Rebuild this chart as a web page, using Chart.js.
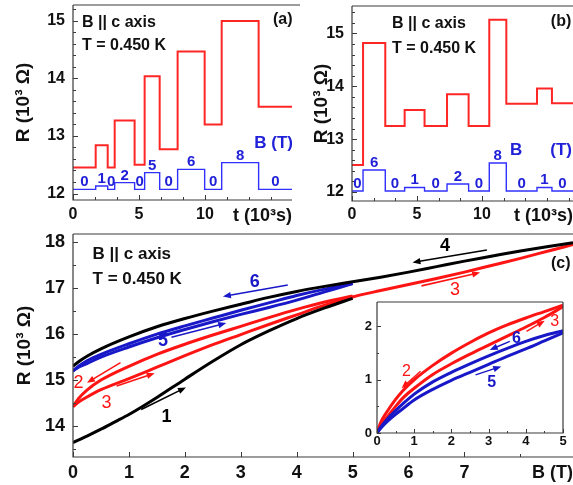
<!DOCTYPE html>
<html>
<head>
<meta charset="utf-8">
<title>R(t) steps and R(B) sweeps, T = 0.450 K</title>
<script src="https://cdn.jsdelivr.net/npm/chart.js@4.4.1/dist/chart.umd.min.js"></script>
<style>
  html, body { margin: 0; padding: 0; background: #fff; }
  #page { position: relative; width: 573px; height: 485px; overflow: hidden; background: #fff; }
  #page canvas { position: absolute; }
</style>
</head>
<body>
<div id="page">
  <canvas id="chartC" width="573" height="260" style="left:0;top:225px"></canvas>
  <canvas id="chartA" width="300" height="230" style="left:0;top:0"></canvas>
  <canvas id="chartB" width="273" height="230" style="left:300px;top:0"></canvas>
  <canvas id="chartInset" width="228" height="160" style="left:345px;top:295px"></canvas>
</div>
<script>
/* ── Panel (a): resistance steps while the field is switched ── */
const timesA = [0, 1.72, 2.63, 3.16, 4.67, 5.43, 6.57, 7.93, 9.98, 11.27, 14.07, 16.6];
const resA   = [12.45, 12.84, 12.45, 13.27, 12.50, 14.04, 12.77, 14.47, 13.20, 15.00, 13.51];
const fieldA = [0, 1, 0, 2, 0, 5, 0, 6, 0, 8, 0];

/* ── Panel (b) ── */
const timesB = [0, 0.85, 2.56, 4.05, 5.58, 7.31, 8.97, 10.56, 11.87, 14.23, 15.38, 17.0];
const resB   = [12.51, 14.82, 13.25, 13.55, 13.25, 13.85, 13.25, 15.26, 13.67, 13.96, 13.68];
const fieldB = [0, 6, 0, 1, 0, 2, 0, 8, 0, 1, 0];

/* ── Panel (c): field sweeps 1..6 (B in T, R in 10^3 ohm), listed by rising B ── */
const sweep1B = [0, 0.25, 0.5, 0.75, 1, 1.25, 1.5, 2, 2.5, 3, 3.5, 4, 4.5, 5];
const sweep1R = [13.64, 13.78, 13.93, 14.09, 14.25, 14.43, 14.62, 15.02, 15.41, 15.77, 16.07, 16.34, 16.57, 16.78];
const sweep2B = [0, 0.1, 0.25, 0.5, 1, 1.5, 2, 2.5, 3, 3.5, 4, 4.5, 5];
const sweep2R = [14.42, 14.6, 14.78, 15.0, 15.3, 15.56, 15.78, 15.98, 16.17, 16.36, 16.54, 16.7, 16.83];
const sweep3B = [0, 0.1, 0.25, 0.5, 1, 1.5, 2, 2.5, 3, 3.5, 4, 4.5, 5, 5.5, 6, 6.5, 7, 7.5, 8, 8.5, 8.94];
const sweep3R = [14.42, 14.52, 14.63, 14.79, 15.03, 15.28, 15.53, 15.77, 15.99, 16.21, 16.42, 16.63, 16.81, 16.95, 17.08, 17.21, 17.35, 17.5, 17.65, 17.81, 17.95];
const sweep4B = [0, 0.1, 0.25, 0.5, 1, 1.5, 2, 2.5, 3, 3.5, 4, 4.5, 5, 5.5, 6, 6.5, 7, 7.5, 8, 8.5, 8.94];
const sweep4R = [15.3, 15.4, 15.52, 15.68, 15.94, 16.16, 16.34, 16.5, 16.65, 16.8, 16.93, 17.04, 17.14, 17.24, 17.35, 17.47, 17.59, 17.7, 17.81, 17.91, 17.99];
const sweep5B = [0, 0.1, 0.25, 0.5, 1, 1.5, 2, 2.5, 3, 3.5, 4, 4.5, 5];
const sweep5R = [15.2, 15.28, 15.36, 15.5, 15.72, 15.92, 16.1, 16.27, 16.43, 16.58, 16.74, 16.92, 17.1];
const sweep6B = [0, 0.1, 0.25, 0.5, 1, 1.5, 2, 2.5, 3, 3.5, 4, 4.5, 5];
const sweep6R = [15.2, 15.3, 15.42, 15.56, 15.79, 16.0, 16.18, 16.35, 16.52, 16.68, 16.84, 16.98, 17.1];

/* ── Inset: R(B) - R(0) for sweeps 2, 3, 5, 6 ── */
const insetB   = [0, 0.1, 0.25, 0.5, 0.7, 1, 1.5, 2, 2.5, 3, 3.5, 4, 4.5, 5];
const inset2dR = [0, 0.2, 0.38, 0.63, 0.8, 1.0, 1.27, 1.5, 1.7, 1.88, 2.03, 2.16, 2.28, 2.4];
const inset3dR = [0, 0.13, 0.28, 0.5, 0.66, 0.84, 1.1, 1.3, 1.48, 1.65, 1.82, 1.99, 2.17, 2.37];
const inset5dR = [0, 0.09, 0.2, 0.35, 0.46, 0.62, 0.82, 0.99, 1.14, 1.29, 1.44, 1.58, 1.73, 1.88];
const inset6dR = [0, 0.11, 0.24, 0.42, 0.55, 0.73, 0.96, 1.14, 1.3, 1.45, 1.59, 1.72, 1.83, 1.92];

/* ── Styling ── */
const FAMILY = '"Liberation Sans", Arial, Helvetica, sans-serif';
const INK = '#111111';
const RED = '#ff2626';
const BLUE = '#3030ff';
const TXT_BLUE = '#2020d8';
const RED_C = '#ff1414';
const BLUE_C = '#1818c8';

Chart.defaults.font.family = FAMILY;

function font(size, weight = 'bold') { return { family: FAMILY, size: size, weight: weight }; }
function cssFont(size, weight = 'bold') { return weight + ' ' + size + 'px ' + FAMILY; }
function isStep(v, step) { return Math.abs(v / step - Math.round(v / step)) < 1e-6; }
function xy(xs, ys) { return xs.map((x, i) => ({ x: x, y: ys[i] })); }

/* step trace: level i holds from times[i] to times[i+1] */
function stepPoints(times, levels) {
  const pts = levels.map((v, i) => ({ x: times[i], y: v }));
  pts.push({ x: times[times.length - 1], y: levels[levels.length - 1] });
  return pts;
}

/* pin axis box size so every panel lines up with the figure */
function fixSize(size, horizontal) {
  return function(scale) {
    if (horizontal) scale.height = size; else scale.width = size;
    scale.paddingLeft = 0; scale.paddingRight = 0;
    scale.paddingTop = 0; scale.paddingBottom = 0;
  };
}

function linAxis(o) {
  return {
    type: 'linear', min: o.min, max: o.max,
    grid: { display: false, drawTicks: false },
    border: { display: false },
    ticks: {
      stepSize: o.step, includeBounds: false, autoSkip: false, maxRotation: 0,
      maxTicksLimit: 1000, padding: o.pad, color: INK, font: font(o.size),
      callback: o.label
    },
    title: o.title ? {
      display: true, text: o.title, align: o.align || 'center', color: INK,
      font: font(o.titleSize), padding: o.titlePad
    } : { display: false },
    afterFit: fixSize(o.box, o.horizontal)
  };
}

/* axis frame with inward tick marks */
function framePlugin(opts) {
  return {
    id: 'frame',
    beforeDatasetsDraw(chart) {
      if (!opts.fill) return;
      const a = chart.chartArea;
      chart.ctx.save();
      chart.ctx.fillStyle = '#ffffff';
      chart.ctx.fillRect(a.left, a.top, a.right - a.left, a.bottom - a.top);
      chart.ctx.restore();
    },
    afterDatasetsDraw(chart) {
      const { ctx, chartArea: a, scales } = chart;
      ctx.save();
      ctx.strokeStyle = '#3a3a3a';
      ctx.lineWidth = 1.2;
      ctx.beginPath();
      ctx.moveTo(a.left, a.top);
      ctx.lineTo(a.left, a.bottom);
      ctx.lineTo(a.right, a.bottom);
      if (opts.right) ctx.lineTo(a.right, a.top);
      ctx.moveTo(a.left, a.top);
      ctx.lineTo(opts.topToEdge ? chart.width : a.right, a.top);
      ctx.stroke();

      ctx.lineWidth = 1;
      ctx.beginPath();
      scales.x.ticks.forEach(t => {
        const px = Math.round(scales.x.getPixelForValue(t.value)) + 0.5;
        const len = t.label !== '' ? opts.major : opts.minor;
        ctx.moveTo(px, a.bottom);
        ctx.lineTo(px, a.bottom - len);
      });
      scales.y.ticks.forEach(t => {
        const py = Math.round(scales.y.getPixelForValue(t.value)) + 0.5;
        const len = t.label !== '' ? opts.major : opts.minor;
        ctx.moveTo(a.left, py);
        ctx.lineTo(a.left + len, py);
      });
      ctx.stroke();
      ctx.restore();
    }
  };
}

function drawArrow(ctx, x1, y1, x2, y2, color, width) {
  const ang = Math.atan2(y2 - y1, x2 - x1);
  const head = 8, half = 3.2;
  const c = Math.cos(ang), s = Math.sin(ang);
  ctx.strokeStyle = color;
  ctx.fillStyle = color;
  ctx.lineWidth = width;
  ctx.beginPath();
  ctx.moveTo(x1, y1);
  ctx.lineTo(x2 - head * 0.7 * c, y2 - head * 0.7 * s);
  ctx.stroke();
  ctx.beginPath();
  ctx.moveTo(x2, y2);
  ctx.lineTo(x2 - head * c + half * s, y2 - head * s - half * c);
  ctx.lineTo(x2 - head * c - half * s, y2 - head * s + half * c);
  ctx.closePath();
  ctx.fill();
}

/* text labels, arrows and field values, all placed in data coordinates */
function overlayPlugin(cfg) {
  return {
    id: 'overlay',
    afterDraw(chart) {
      const ctx = chart.ctx;
      const xs = chart.scales.x, ys = chart.scales.y;
      ctx.save();
      (cfg.arrows || []).forEach(ar => {
        drawArrow(ctx,
          xs.getPixelForValue(ar.from[0]), ys.getPixelForValue(ar.from[1]),
          xs.getPixelForValue(ar.to[0]), ys.getPixelForValue(ar.to[1]),
          ar.color, ar.width || 1.6);
      });
      (cfg.texts || []).forEach(tx => {
        ctx.font = tx.font;
        ctx.fillStyle = tx.color || INK;
        ctx.textAlign = tx.align || 'center';
        ctx.textBaseline = 'middle';
        ctx.fillText(tx.text, xs.getPixelForValue(tx.at[0]), ys.getPixelForValue(tx.at[1]));
      });
      if (cfg.steps) {
        const st = cfg.steps, fs = chart.scales.y2;
        ctx.font = cssFont(15);
        ctx.fillStyle = TXT_BLUE;
        ctx.textAlign = 'center';
        ctx.textBaseline = 'alphabetic';
        st.levels.forEach((lv, i) => {
          const mid = (st.times[i] + st.times[i + 1]) / 2;
          ctx.fillText(String(lv), xs.getPixelForValue(mid), fs.getPixelForValue(lv) - 3);
        });
      }
      ctx.restore();
    }
  };
}

const baseOpts = (padding) => ({
  responsive: false,
  animation: false,
  events: [],
  layout: { padding: padding },
  plugins: { legend: { display: false }, tooltip: { enabled: false } },
  elements: { point: { radius: 0 } }
});

const timeLabel = v => (isStep(v, 5) && v < 12 ? String(Math.round(v)) : '');
const intLabel = v => (isStep(v, 1) ? String(Math.round(v)) : '');

/* ── (a) ── */
new Chart(document.getElementById('chartA'), {
  type: 'line',
  data: {
    datasets: [
      { data: stepPoints(timesA, resA), borderColor: RED, borderWidth: 2, stepped: true, yAxisID: 'y' },
      { data: stepPoints(timesA, fieldA), borderColor: BLUE, borderWidth: 1.4, stepped: true, yAxisID: 'y2' }
    ]
  },
  options: Object.assign(baseOpts({ top: 5, right: 8, left: 0, bottom: 0 }), {
    scales: {
      x: linAxis({ min: 0, max: 16.6, step: 5 / 3, pad: 5, size: 16, label: timeLabel,
        title: 't (10³s)', align: 'end', titleSize: 18, titlePad: { top: 0, bottom: 3.2 },
        box: 30, horizontal: true }),
      y: linAxis({ min: 11.887, max: 15.278, step: 0.2, pad: 8, size: 16, label: intLabel,
        title: 'R (10³ Ω)', titleSize: 19, titlePad: { top: 12.6, bottom: 0 }, box: 73 }),
      y2: { type: 'linear', display: false, min: -3.2, max: 55.3 }
    }
  }),
  plugins: [
    framePlugin({ major: 5, minor: 3, topToEdge: true }),
    overlayPlugin({
      texts: [
        { text: 'B || c axis', at: [0.68, 14.98], align: 'left', font: cssFont(16) },
        { text: 'T = 0.450 K', at: [0.68, 14.57], align: 'left', font: cssFont(16) },
        { text: '(a)', at: [15.9, 15.02], font: cssFont(16) },
        { text: 'B (T)', at: [16.67, 12.88], align: 'right', font: cssFont(17), color: TXT_BLUE }
      ],
      steps: { times: timesA, levels: fieldA }
    })
  ]
});

/* ── (b) ── */
new Chart(document.getElementById('chartB'), {
  type: 'line',
  data: {
    datasets: [
      { data: stepPoints(timesB, resB), borderColor: RED, borderWidth: 2, stepped: true, yAxisID: 'y' },
      { data: stepPoints(timesB, fieldB), borderColor: BLUE, borderWidth: 1.4, stepped: true, yAxisID: 'y2' }
    ]
  },
  options: Object.assign(baseOpts({ top: 6, right: 0, left: 0, bottom: 0 }), {
    scales: {
      x: linAxis({ min: 0, max: 17.0, step: 5 / 3, pad: 4, size: 16, label: timeLabel,
        title: 't (10³s)', align: 'end', titleSize: 18, titlePad: { top: 0, bottom: 3.2 },
        box: 29, horizontal: true }),
      y: linAxis({ min: 11.83, max: 15.52, step: 0.2, pad: 8, size: 16, label: intLabel,
        title: 'R (10³ Ω)', titleSize: 19, titlePad: { top: 10.6, bottom: 0 }, box: 52 }),
      y2: { type: 'linear', display: false, min: -2.86, max: 52.86 }
    }
  }),
  plugins: [
    framePlugin({ major: 5, minor: 3 }),
    overlayPlugin({
      texts: [
        { text: 'B || c axis', at: [3.08, 15.18], align: 'left', font: cssFont(16) },
        { text: 'T = 0.450 K', at: [3.08, 14.72], align: 'left', font: cssFont(16) },
        { text: '(b)', at: [16.08, 15.23], font: cssFont(16) },
        { text: 'B', at: [12.15, 12.79], align: 'left', font: cssFont(17), color: TXT_BLUE },
        { text: '(T)', at: [16.92, 12.79], align: 'right', font: cssFont(17), color: TXT_BLUE }
      ],
      steps: { times: timesB, levels: fieldB }
    })
  ]
});

/* ── (c) ── */
const sweepStyle = (color) => ({ borderColor: color, borderWidth: 3, cubicInterpolationMode: 'monotone' });
new Chart(document.getElementById('chartC'), {
  type: 'line',
  data: {
    datasets: [
      Object.assign({ data: xy(sweep1B, sweep1R) }, sweepStyle('#000000')),
      Object.assign({ data: xy(sweep4B, sweep4R) }, sweepStyle('#000000')),
      Object.assign({ data: xy(sweep2B, sweep2R) }, sweepStyle(RED_C)),
      Object.assign({ data: xy(sweep3B, sweep3R) }, sweepStyle(RED_C)),
      Object.assign({ data: xy(sweep5B, sweep5R) }, sweepStyle(BLUE_C)),
      Object.assign({ data: xy(sweep6B, sweep6R) }, sweepStyle(BLUE_C))
    ]
  },
  options: Object.assign(baseOpts({ top: 9, right: 0, left: 0, bottom: 0 }), {
    scales: {
      x: linAxis({ min: 0, max: 8.94, step: 1, pad: 5, size: 18,
        label: v => (v <= 7 && isStep(v, 1) ? String(Math.round(v)) : ''),
        title: 'B (T)', align: 'end', titleSize: 18, titlePad: { top: 0, bottom: 1.2 },
        box: 28, horizontal: true }),
      y: linAxis({ min: 13.325, max: 18.18, step: 0.5, pad: 8, size: 18, label: intLabel,
        title: 'R (10³ Ω)', titleSize: 19, titlePad: { top: 13.6, bottom: 0 }, box: 73 })
    }
  }),
  plugins: [
    framePlugin({ major: 5, minor: 3 }),
    overlayPlugin({
      arrows: [
        { from: [3.84, 17.07], to: [2.68, 16.82], color: BLUE_C },
        { from: [1.76, 15.93], to: [2.74, 16.24], color: BLUE_C },
        { from: [0.85, 15.38], to: [0.25, 14.94], color: RED_C },
        { from: [0.78, 14.87], to: [1.46, 15.15], color: RED_C },
        { from: [1.22, 14.36], to: [2.02, 14.84], color: '#000000' },
        { from: [7.40, 17.83], to: [6.07, 17.56], color: '#000000' },
        { from: [6.23, 17.05], to: [7.28, 17.34], color: RED_C }
      ],
      texts: [
        { text: 'B || c axis', at: [0.35, 17.73], align: 'left', font: cssFont(17) },
        { text: 'T = 0.450 K', at: [0.35, 17.2], align: 'left', font: cssFont(17) },
        { text: '(c)', at: [8.72, 17.54], font: cssFont(16) },
        { text: '6', at: [3.25, 17.14], font: cssFont(18), color: BLUE_C },
        { text: '5', at: [1.61, 15.84], font: cssFont(18), color: BLUE_C },
        { text: '2', at: [0.1, 14.93], font: cssFont(18, 'normal'), color: RED_C },
        { text: '3', at: [0.6, 14.49], font: cssFont(18, 'normal'), color: RED_C },
        { text: '1', at: [1.67, 14.2], font: cssFont(18), color: '#000000' },
        { text: '4', at: [6.65, 17.91], font: cssFont(18), color: '#000000' },
        { text: '3', at: [6.83, 16.96], font: cssFont(18, 'normal'), color: RED_C }
      ]
    })
  ]
});

/* ── inset of (c) ── */
const insetStyle = (color) => ({ borderColor: color, borderWidth: 3, cubicInterpolationMode: 'monotone' });
new Chart(document.getElementById('chartInset'), {
  type: 'line',
  data: {
    datasets: [
      Object.assign({ data: xy(insetB, inset5dR) }, insetStyle(BLUE_C)),
      Object.assign({ data: xy(insetB, inset6dR) }, insetStyle(BLUE_C)),
      Object.assign({ data: xy(insetB, inset3dR) }, insetStyle(RED_C)),
      Object.assign({ data: xy(insetB, inset2dR) }, insetStyle(RED_C))
    ]
  },
  options: Object.assign(baseOpts({ top: 7, right: 10, left: 0, bottom: 0 }), {
    scales: {
      x: linAxis({ min: 0, max: 5, step: 0.5, pad: 1, size: 13, label: intLabel,
        box: 22, horizontal: true }),
      y: linAxis({ min: 0, max: 2.46, step: 0.5, pad: 5, size: 13, label: intLabel, box: 32 })
    }
  }),
  plugins: [
    framePlugin({ major: 4, minor: 2, right: true, fill: true }),
    overlayPlugin({
      arrows: [
        { from: [1.17, 1.16], to: [0.66, 0.84], color: RED_C, width: 1.4 },
        { from: [4.02, 1.91], to: [4.51, 2.11], color: RED_C, width: 1.4 },
        { from: [3.57, 1.72], to: [3.03, 1.56], color: BLUE_C, width: 1.4 },
        { from: [2.65, 1.09], to: [3.34, 1.25], color: BLUE_C, width: 1.4 }
      ],
      texts: [
        { text: '2', at: [0.79, 1.16], font: cssFont(16, 'normal'), color: RED_C },
        { text: '3', at: [4.78, 2.09], font: cssFont(16, 'normal'), color: RED_C },
        { text: '6', at: [3.75, 1.78], font: cssFont(16), color: BLUE_C },
        { text: '5', at: [3.08, 0.94], font: cssFont(16), color: BLUE_C }
      ]
    })
  ]
});
</script>
</body>
</html>
